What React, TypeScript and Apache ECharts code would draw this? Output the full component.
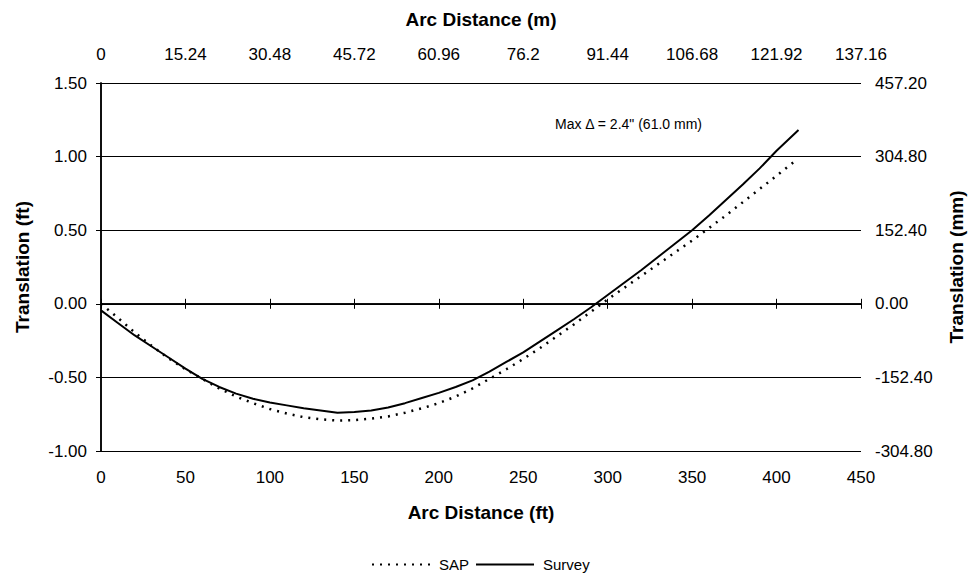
import React, { useEffect, useRef } from "react";
import * as echarts from "echarts";

const arcFt = [0, 10, 20, 30, 40, 50, 60, 70, 80, 90, 100, 110, 120, 130, 140, 150, 160, 170, 180, 190, 200, 210, 220, 230, 240, 250, 260, 270, 280, 290, 300, 310, 320, 330, 340, 350, 360, 370, 380, 390, 400];
const surveyVals = [-0.045, -0.13, -0.215, -0.29, -0.365, -0.44, -0.51, -0.565, -0.61, -0.645, -0.67, -0.69, -0.71, -0.725, -0.74, -0.735, -0.725, -0.705, -0.675, -0.64, -0.605, -0.565, -0.52, -0.46, -0.395, -0.33, -0.255, -0.18, -0.105, -0.025, 0.06, 0.145, 0.23, 0.32, 0.41, 0.5, 0.6, 0.705, 0.81, 0.92, 1.04];
const surveyEnd = [413, 1.18];
const sapVals = [0, -0.095, -0.195, -0.285, -0.37, -0.445, -0.51, -0.575, -0.63, -0.675, -0.715, -0.745, -0.77, -0.785, -0.793, -0.79, -0.78, -0.765, -0.74, -0.71, -0.675, -0.63, -0.575, -0.51, -0.445, -0.375, -0.3, -0.22, -0.14, -0.055, 0.03, 0.11, 0.19, 0.27, 0.35, 0.43, 0.515, 0.6, 0.69, 0.78, 0.87];
const sapEnd = [411, 0.97];

const FONT = "'Liberation Sans', Arial, sans-serif";

export default function App() {
  const ref = useRef<HTMLDivElement>(null);
  useEffect(() => {
    const chart = echarts.init(ref.current!, null, { renderer: "svg" });
    const survey = arcFt.map((x, i) => [x, surveyVals[i]]).concat([surveyEnd]);
    const sap = arcFt.map((x, i) => [x, sapVals[i]]).concat([sapEnd]);
    const axisLine = { show: true, lineStyle: { color: "#000", width: 1.5 } };
    const label = { color: "#000", fontSize: 17, fontFamily: FONT };
    const nameStyle = { color: "#000", fontSize: 19, fontWeight: "bold" as const, fontFamily: FONT };
    const tick = { show: true, length: 5, lineStyle: { color: "#000" } };
    chart.setOption({
      animation: false,
      backgroundColor: "#fff",
      textStyle: { fontFamily: FONT },
      grid: { left: 101, right: 111, top: 83, bottom: 122, containLabel: false },
      xAxis: [
        {
          type: "value", position: "bottom", min: 0, max: 450, interval: 50,
          axisLine, axisTick: tick,
          axisLabel: { ...label, margin: 18 },
          splitLine: { show: false },
          name: "Arc Distance (ft)", nameLocation: "middle", nameGap: 52, nameTextStyle: nameStyle,
        },
        {
          type: "value", position: "top", min: 0, max: 137.16, interval: 15.24,
          axisLine, axisTick: tick,
          axisLabel: { ...label, margin: 20, formatter: (v: number) => String(+v.toFixed(2)) },
          splitLine: { show: false },
          name: "Arc Distance (m)", nameLocation: "middle", nameGap: 54, nameTextStyle: nameStyle,
        },
      ],
      yAxis: [
        {
          type: "value", position: "left", min: -1, max: 1.5, interval: 0.5,
          axisLine, axisTick: tick,
          axisLabel: { ...label, margin: 14, formatter: (v: number) => v.toFixed(2) },
          splitLine: { show: true, lineStyle: { color: "#000", width: 1 } },
          name: "Translation (ft)", nameLocation: "middle", nameGap: 69, nameRotate: 90, nameTextStyle: nameStyle,
        },
        {
          type: "value", position: "right", min: -304.8, max: 457.2, interval: 152.4,
          axisLine, axisTick: tick,
          axisLabel: { ...label, margin: 14, formatter: (v: number) => v.toFixed(2) },
          splitLine: { show: false },
          name: "Translation (mm)", nameLocation: "middle", nameGap: 86, nameRotate: 90, nameTextStyle: nameStyle,
        },
      ],
      legend: {
        top: 552, left: 366,
        itemWidth: 58, itemHeight: 16, itemGap: 6,
        itemStyle: { opacity: 0 },
        textStyle: { color: "#000", fontSize: 15, fontFamily: FONT, padding: [0, 0, 0, 4] },
        data: ["SAP", "Survey"],
      },
      graphic: [
        {
          type: "text", left: 555, top: 117,
          style: { text: "Max Δ = 2.4\" (61.0 mm)", fill: "#000", font: `14px ${FONT}` },
        },
      ],
      series: [
        {
          name: "SAP", type: "line", data: sap, symbol: "none", smooth: false,
          lineStyle: { color: "#000", width: 2.5, type: [2, 6] }, itemStyle: { color: "#000" },
        },
        {
          name: "Survey", type: "line", data: survey, symbol: "none", smooth: false,
          lineStyle: { color: "#000", width: 2 }, itemStyle: { color: "#000" },
        },
      ],
    });
    return () => chart.dispose();
  }, []);
  return <div ref={ref} style={{ position: "absolute", left: 0, top: 0, width: 974, height: 573 }} />;
}
